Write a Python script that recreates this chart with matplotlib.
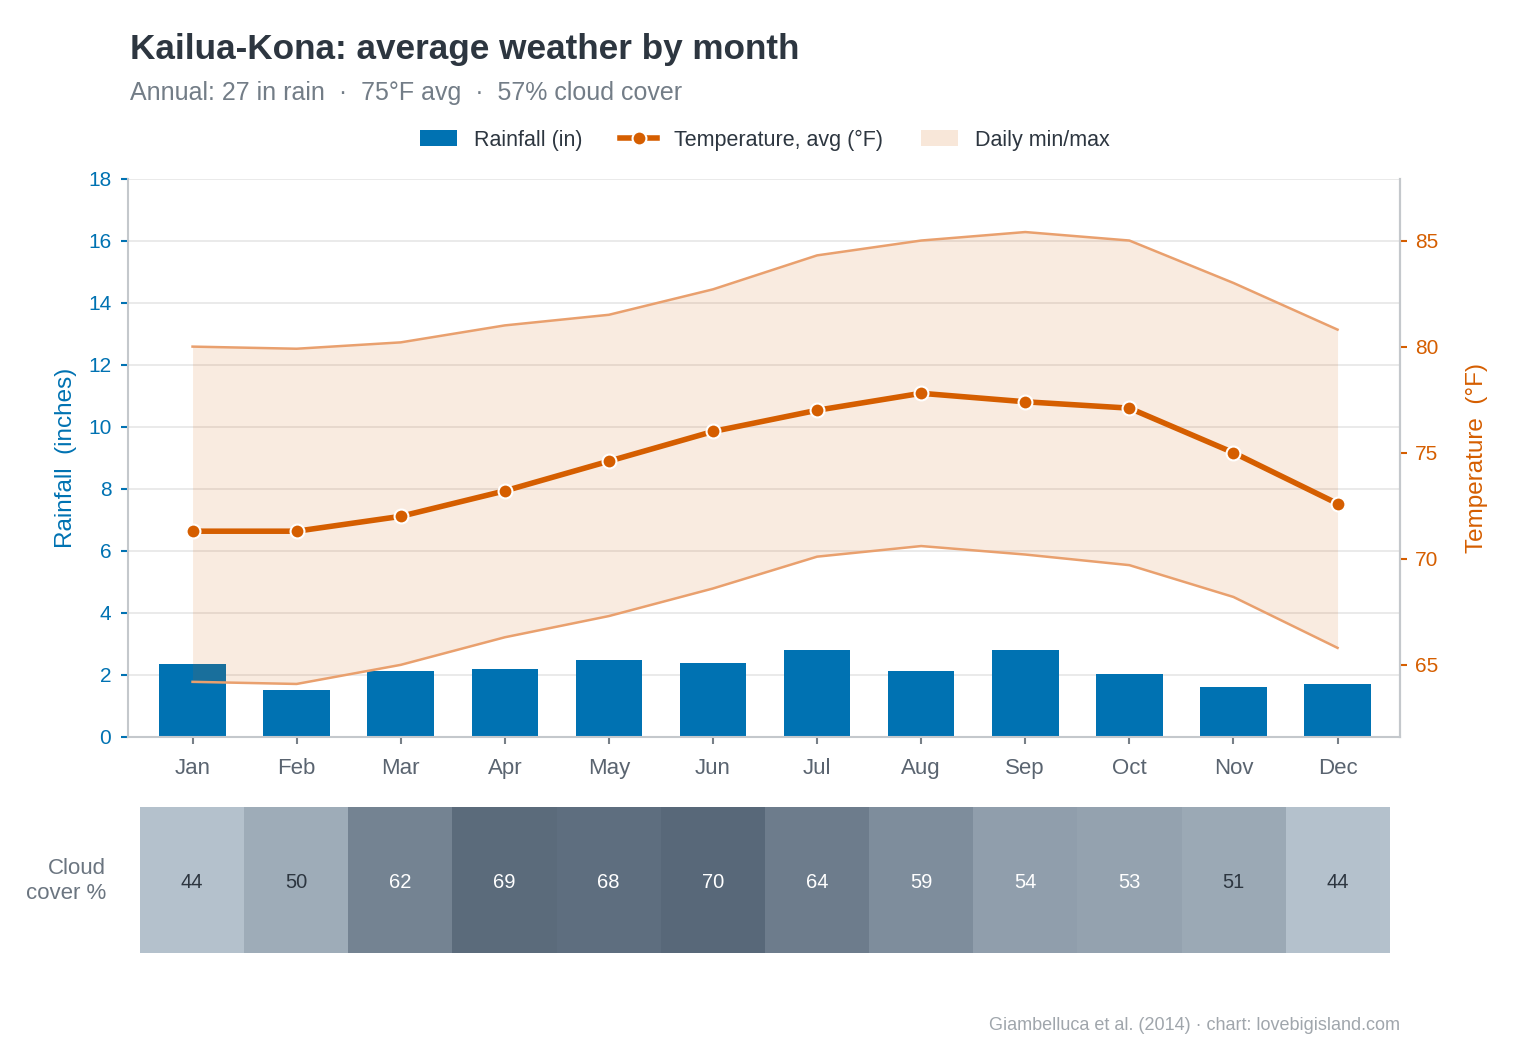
import numpy as np
import matplotlib
matplotlib.use('Agg')
import matplotlib.pyplot as plt
from matplotlib.colors import LinearSegmentedColormap
from matplotlib.lines import Line2D
from matplotlib.patches import Patch

plt.rcParams['font.family'] = ['Liberation Sans', 'DejaVu Sans']

months = ['Jan', 'Feb', 'Mar', 'Apr', 'May', 'Jun', 'Jul', 'Aug', 'Sep', 'Oct', 'Nov', 'Dec']
rain = [2.35, 1.52, 2.13, 2.19, 2.48, 2.39, 2.81, 2.13, 2.81, 2.03, 1.61, 1.71]
temp_avg = [71.3, 71.3, 72.0, 73.2, 74.6, 76.0, 77.0, 77.8, 77.4, 77.1, 75.0, 72.6]
temp_max = [80.0, 79.9, 80.2, 81.0, 81.5, 82.7, 84.3, 85.0, 85.4, 85.0, 83.0, 80.8]
temp_min = [64.2, 64.1, 65.0, 66.3, 67.3, 68.6, 70.1, 70.6, 70.2, 69.7, 68.2, 65.8]
cloud = [44, 50, 62, 69, 68, 70, 64, 59, 54, 53, 51, 44]

blue = '#0072B2'
orange = '#D55E00'
dark = '#2d3640'
grey = '#6b7580'
spine_c = '#c4c8cc'

x = np.arange(len(months))

fig = plt.figure(figsize=(15.3, 10.54), dpi=100)
W, H = 1530, 1054

# main chart
ax = fig.add_axes([128/W, 1-737/H, (1400-128)/W, (737-179)/H])
ax.bar(x, rain, width=0.64, color=blue, zorder=2)
ax.set_xlim(-0.62, 11.6)
ax.set_ylim(0, 18)
ax.set_yticks(np.arange(0, 19, 2))
ax.set_xticks(x)
ax.set_xticklabels(months)
ax.grid(axis='y', color='#e6e6e6', linewidth=1.2, zorder=0)
ax.set_axisbelow(True)
ax.spines['top'].set_visible(False)
for s in ['left', 'bottom', 'right']:
    ax.spines[s].set_color(spine_c)
    ax.spines[s].set_linewidth(1.5)
ax.tick_params(axis='y', colors=blue, labelsize=15, length=5, width=1.5, pad=7)
ax.tick_params(axis='x', colors='#777f87', labelcolor='#5a6470', labelsize=16,
               length=5, width=1.5, pad=10)
ax.set_ylabel('Rainfall  (inches)', color=blue, fontsize=17.5, labelpad=8)

ax2 = ax.twinx()
ax2.fill_between(x, temp_min, temp_max, color=orange, alpha=0.12, linewidth=0)
ax2.plot(x, temp_max, color='#e9a06e', linewidth=1.8)
ax2.plot(x, temp_min, color='#e9a06e', linewidth=1.8)
ax2.plot(x, temp_avg, color=orange, linewidth=4, marker='o', markersize=10,
         markerfacecolor=orange, markeredgecolor='white', markeredgewidth=1.5)
ax2.set_ylim(min(temp_min) - 2.5, max(temp_max) + 2.5)
ax2.set_yticks([65, 70, 75, 80, 85])
for s in ['top', 'left', 'bottom']:
    ax2.spines[s].set_visible(False)
ax2.spines['right'].set_color(spine_c)
ax2.spines['right'].set_linewidth(1.5)
ax2.tick_params(axis='y', colors=orange, labelsize=15, length=5, width=1.5, pad=6)
ax2.set_ylabel('Temperature  (°F)', color=orange, fontsize=17.5, labelpad=20)

# legend
handles = [
    Patch(facecolor=blue, edgecolor='none'),
    Line2D([0], [0], color=orange, linewidth=4, marker='o', markersize=10,
           markerfacecolor=orange, markeredgecolor='white', markeredgewidth=1.5),
    Patch(facecolor=orange, alpha=0.15, edgecolor='none'),
]
fig.legend(handles, ['Rainfall (in)', 'Temperature, avg (°F)', 'Daily min/max'],
           loc='center', bbox_to_anchor=(765/W, 1-140/H), ncol=3, frameon=False,
           fontsize=15.5, labelcolor=dark, handlelength=1.7, handletextpad=0.8,
           columnspacing=1.75)

# cloud cover strip
cmap = LinearSegmentedColormap.from_list('cloud', ['#b4c1cc', '#586879'])
cax = fig.add_axes([140/W, 1-953/H, 1250/W, (953-807)/H])
cax.imshow(np.array([cloud]), cmap=cmap, vmin=44, vmax=70, aspect='auto',
           extent=(-0.5, 11.5, 0, 1))
for i, v in enumerate(cloud):
    cax.text(i, 0.48, str(v), ha='center', va='center', fontsize=14.5,
             color=dark if v < 52 else 'white')
cax.set_xlim(-0.5, 11.5)
cax.set_axis_off()
fig.text(106/W, 1-881/H, 'Cloud\ncover %', ha='right', va='center', fontsize=16,
         color=grey, linespacing=1.25)

# titles
fig.text(130/W, 1-59/H, 'Kailua-Kona: average weather by month', fontsize=25.3,
         fontweight='bold', color=dark, va='baseline')
fig.text(130/W, 1-100/H, 'Annual: 27 in rain  ·  75°F avg  ·  57% cloud cover',
         fontsize=18, color='#737d87', va='baseline')
fig.text(1400/W, 1-1030/H, 'Giambelluca et al. (2014) · chart: lovebigisland.com',
         fontsize=13, color='#a0a6ac', ha='right', va='baseline')

fig.savefig('out.png', dpi=100)
